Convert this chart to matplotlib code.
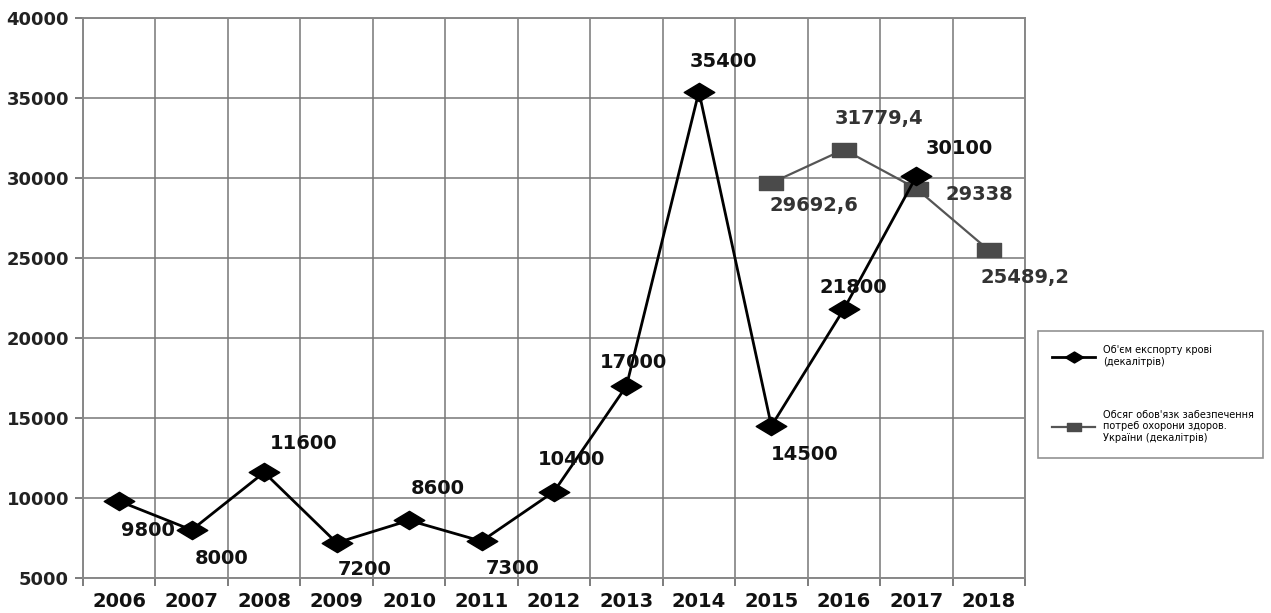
import matplotlib
matplotlib.use('Agg')
import matplotlib.pyplot as plt
from matplotlib.path import Path
import numpy as np

# data
years = ['2006', '2007', '2008', '2009', '2010', '2011', '2012',
         '2013', '2014', '2015', '2016', '2017', '2018']
export_vol = [9800, 8000, 11600, 7200, 8600, 7300, 10400,
              17000, 35400, 14500, 21800, 30100, np.nan]
need_vol = [np.nan] * 9 + [29692.6, 31779.4, 29338, 25489.2]

export_lbl = ['9800', '8000', '11600', '7200', '8600', '7300', '10400',
              '17000', '35400', '14500', '21800', '30100', '']
need_lbl = [''] * 9 + ['29692,6', '31779,4', '29338', '25489,2']

legend_export = "Об'єм експорту крові\n(декалітрів)"
legend_need = "Обсяг обов'язк забезпечення\nпотреб охорони здоров.\nУкраїни (декалітрів)"

# label offsets in pixels (dx, dy)
off_export = [(29, -29), (30, -28), (39, 29), (28, -27), (29, 32), (31, -27), (18, 32),
              (7, 23), (25, 30), (33, -29), (9, 22), (43, 28), (0, 0)]
off_need = [(0, 0)] * 9 + [(43, -23), (35, 31), (63, -6), (36, -27)]

# flattened diamond and wide square like in the scan
diamond = Path([(-1, 0), (0, 0.6), (1, 0), (0, -0.6), (-1, 0)],
               [Path.MOVETO, Path.LINETO, Path.LINETO, Path.LINETO, Path.CLOSEPOLY])
wide_sq = Path([(-1, -0.62), (1, -0.62), (1, 0.62), (-1, 0.62), (-1, -0.62)],
               [Path.MOVETO, Path.LINETO, Path.LINETO, Path.LINETO, Path.CLOSEPOLY])

fig = plt.figure(figsize=(12.71, 6.13), dpi=100)
ax = fig.add_axes([83/1271, 1-578/613, (1025-83)/1271, (578-18)/613])

x = np.arange(len(years))
l1, = ax.plot(x, export_vol, color='black', lw=2, marker=diamond, ms=22,
              mfc='black', mec='black', zorder=4)
l2, = ax.plot(x, need_vol, color='#555555', lw=1.6, marker=wide_sq, ms=17,
              mfc='#4a4a4a', mec='#4a4a4a', zorder=3)

for i in range(len(years)):
    if export_lbl[i]:
        ax.annotate(export_lbl[i], (x[i], export_vol[i]), xytext=off_export[i],
                    textcoords='offset pixels', ha='center', va='center',
                    fontsize=14, fontweight='bold', color='#111111', zorder=5)
    if need_lbl[i]:
        ax.annotate(need_lbl[i], (x[i], need_vol[i]), xytext=off_need[i],
                    textcoords='offset pixels', ha='center', va='center',
                    fontsize=14, fontweight='bold', color='#333333', zorder=5)

ax.set_xlim(-0.5, len(years) - 0.5)
ax.set_ylim(5000, 40000)
ax.set_yticks(np.arange(5000, 40001, 5000))
ax.set_yticklabels([str(v) for v in range(5000, 40001, 5000)],
                   fontsize=13, fontweight='bold', color='#222222')

ax.set_xticks(np.arange(-0.5, len(years)), minor=False)
ax.set_xticklabels([])
ax.set_xticks(x, minor=True)
ax.set_xticklabels(years, minor=True, fontsize=14, fontweight='bold', color='#111111')
ax.tick_params(axis='x', which='minor', length=0, pad=10)
ax.tick_params(axis='x', which='major', length=6, color='#666666', width=1.2, direction='out')
ax.tick_params(axis='y', length=6, color='#666666', width=1.2, pad=4)

ax.grid(True, which='major', color='#777777', lw=1.1)
ax.set_axisbelow(True)
for s in ax.spines.values():
    s.set_color('#888888')
    s.set_linewidth(1.4)

leg = fig.legend([l1, l2], [legend_export, legend_need], loc='upper left',
                 bbox_to_anchor=(1033/1271, 1-326/613, (1268-1033)/1271, 0.0),
                 mode='expand', fontsize=7.0, frameon=True, fancybox=False,
                 edgecolor='#777777', handlelength=4.4, labelspacing=4.4,
                 borderpad=1.5, markerscale=0.6)
leg.get_frame().set_linewidth(1.2)

fig.savefig('out.png', dpi=100)
